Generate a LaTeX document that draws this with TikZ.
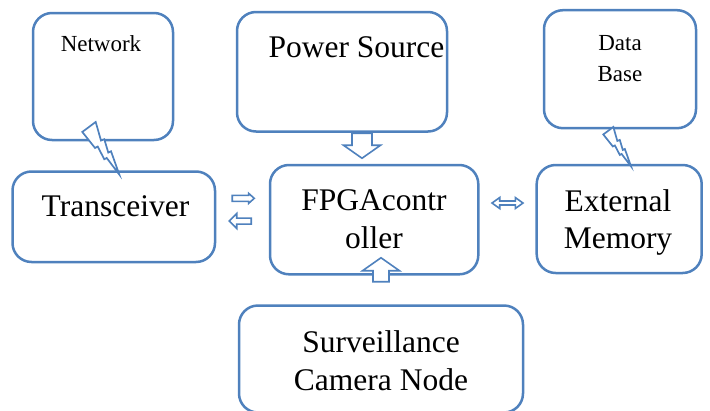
\documentclass[tikz,border=0pt]{standalone}
\usepackage{fontspec}
\setmainfont{Liberation Serif}
\usetikzlibrary{calc}
\definecolor{ob}{RGB}{79,129,189}
\tikzset{
  box/.style={draw=ob, line width=2.5pt, rounded corners=19pt, rectangle, inner sep=0pt},
  txt/.style={align=center, inner sep=0pt, anchor=base},
  arr/.style={draw=ob, line width=1.6pt, fill=white, line join=miter},
  boltline/.style={draw=ob, line width=1.7pt, fill=white, line join=miter},
  pics/barrow/.style args={#1/#2/#3/#4}{code={
    \draw[arr] (0,#2) -- (#1-#4,#2) -- (#1-#4,#3) -- (#1,0) -- (#1-#4,-#3) -- (#1-#4,-#2) -- (0,-#2) -- cycle;}},
  pics/darrow/.style args={#1/#2/#3/#4}{code={
    \draw[arr] (-#1/2,0) -- (-#1/2+#4,#3) -- (-#1/2+#4,#2) -- (#1/2-#4,#2) -- (#1/2-#4,#3) -- (#1/2,0)
      -- (#1/2-#4,-#3) -- (#1/2-#4,-#2) -- (-#1/2+#4,-#2) -- (-#1/2+#4,-#3) -- cycle;}},
  pics/bolt/.style={code={
    \draw[boltline] (0,0) -- (13.4,-10) -- (18.7,8.6) -- (22,7.3) -- (26,20.6) -- (28.7,19.3)
      -- (37,42.6) -- (24.4,26) -- (22,27.3) -- (15.4,14.6) -- (12.7,16) -- cycle;}}
}
\begin{document}
\begin{tikzpicture}[x=1pt, y=-1pt]
\useasboundingbox (0,0) rectangle (710,410);
\begin{scope}
\clip (0,0) rectangle (710,410);
% boxes
\node[box, minimum width=140pt, minimum height=127pt] (net) at (103,76.5) {};
\node[box, minimum width=210pt, minimum height=119.5pt] (pow) at (342,71.75) {};
\node[box, minimum width=152pt, minimum height=118pt] (db) at (620,69.2) {};
\node[box, minimum width=202.5pt, minimum height=90.5pt] (trx) at (113.75,216.75) {};
\node[box, minimum width=208.3pt, minimum height=109.3pt] (fpga) at (374.15,219.65) {};
\node[box, minimum width=165pt, minimum height=108pt] (ext) at (619.2,219) {};
\node[box, minimum width=284pt, minimum height=107pt] (surv) at (381,359) {};
\end{scope}
% texts (base anchor = baseline of last line)
\node[txt, font=\rmfamily\fontsize{23}{31.7}\selectfont] (netT) at (101,51.7) {Network};
\node[txt, font=\rmfamily\fontsize{31.5}{37.6}\selectfont] (powT) at (356.5,57.7) {Power Source};
\node[txt, font=\rmfamily\fontsize{23}{31.7}\selectfont] (dbT) at (620,81.7) {Data\\Base};
\node[txt, font=\rmfamily\fontsize{31.5}{37.6}\selectfont] (trxT) at (115.5,216) {Transceiver};
\node[txt, font=\rmfamily\fontsize{31.5}{37.6}\selectfont] (fpgaT) at (374,248.3) {FPGAcontr\\oller};
\node[txt, font=\rmfamily\fontsize{31.5}{37.7}\selectfont] (extT) at (618,248.7) {External\\Memory};
\node[txt, font=\rmfamily\fontsize{31.5}{38}\selectfont] (survT) at (381,390.5) {Surveillance\\Camera Node};
% block arrows
\pic[rotate=-90] at ($(pow.south)+(20,0.5)$) {barrow=25/10/18.5/13};
\pic[rotate=90] at ($(surv.north)+(0,-22.5)$) {barrow=24/8/18.5/13};
\pic at ($(trx.east)+(16,-18.4)$) {barrow=22/3/5/5.6};
\pic[rotate=180] at ($(trx.east)+(35,4.3)$) {barrow=22/3/7.5/7.5};
\pic at ($(fpga.east)!0.5!(ext.west)+(0,-16.3)$) {darrow=31/2/5.5/7.7};
% lightning links
\pic at ($(net.south)+(-20.7,-9.3)$) {bolt};
\pic[scale=0.75] at ($(db.south)+(-16.7,5)$) {bolt};
\end{tikzpicture}
\end{document}
